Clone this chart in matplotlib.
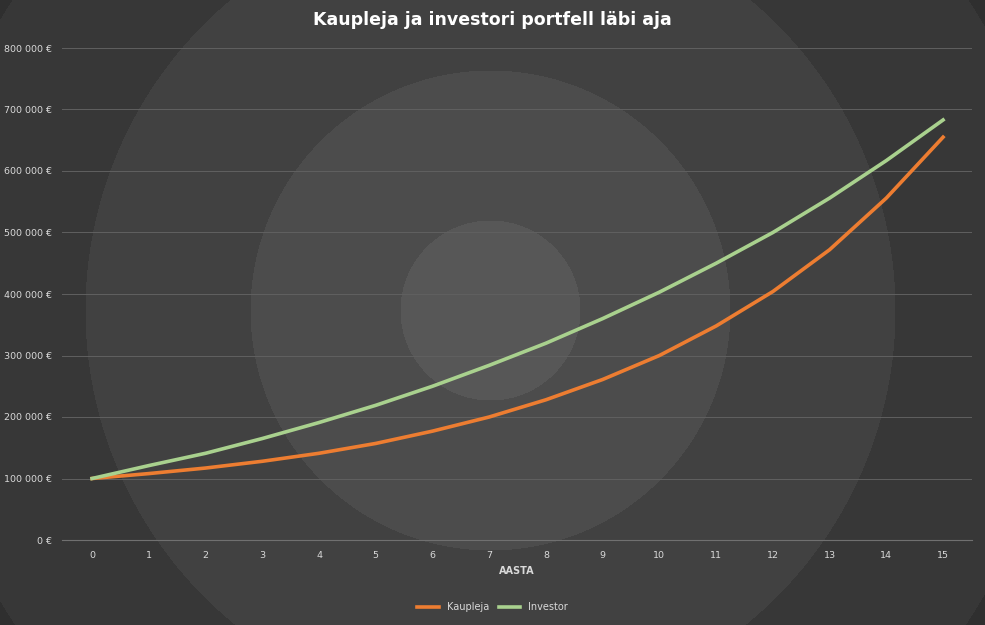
import numpy as np
import matplotlib
matplotlib.use("Agg")
import matplotlib.pyplot as plt
from matplotlib.ticker import FuncFormatter

years = list(range(16))
kaupleja = [100000, 108000, 117000, 128000, 141000, 157000, 177000, 200000, 228000, 261000, 300000, 348000, 404000, 472000, 556000, 655000]
investor = [100000, 121000, 141000, 165000, 191000, 219000, 250000, 284000, 320000, 360000, 403000, 450000, 500000, 556000, 617000, 683000]

W, H = 985, 625
fig = plt.figure(figsize=(W/100, H/100), dpi=100)

# radial stepped background
bg = fig.add_axes([0, 0, 1, 1])
yy, xx = np.mgrid[0:H, 0:W]
d = np.hypot(xx - 490, yy - 310)
edges = [90, 240, 405, 570, 740]
vals = [0x57, 0x4c, 0x41, 0x37, 0x2f, 0x29]
img = np.full(d.shape, vals[-1], dtype=float)
for r, v in reversed(list(zip(edges, vals))):
    img[d < r] = v
bg.imshow(img / 255.0, cmap="gray", vmin=0, vmax=1, aspect="auto")
bg.axis("off")

ax = fig.add_axes([62/W, 85/H, 910/W, 492/H])
ax.set_facecolor("none")
ax.plot(years, kaupleja, color="#ed7d31", lw=2.6, label="Kaupleja")
ax.plot(years, investor, color="#a9d18e", lw=2.6, label="Investor")
ax.set_xlim(-0.53, 15.51)
ax.set_ylim(0, 800000)
ax.set_yticks(range(0, 800001, 100000))
ax.set_xticks(years)
ax.yaxis.set_major_formatter(FuncFormatter(lambda v, p: "0 €" if v == 0 else f"{int(v)//1000} 000 €"))
ax.grid(axis="y", color="#606060", lw=0.7)
ax.set_axisbelow(True)
for s in ax.spines.values():
    s.set_visible(False)
ax.spines["bottom"].set_visible(True)
ax.spines["bottom"].set_color("#707070")
ax.tick_params(axis="y", colors="#d9d9d9", labelsize=6.8, length=0, pad=7)
ax.tick_params(axis="x", colors="#d9d9d9", labelsize=6.8, length=0, pad=8)
ax.set_xlabel("AASTA", color="#d9d9d9", fontsize=7, fontweight="bold", labelpad=4)
fig.text(0.5, 0.968, "Kaupleja ja investori portfell läbi aja", ha="center", va="center",
         color="white", fontsize=12.5, fontweight="bold")
leg = fig.legend(loc="center", bbox_to_anchor=(0.5, 0.028), ncol=2, frameon=False,
                 fontsize=7, handlelength=2.2, columnspacing=1.0, labelcolor="#d9d9d9")
fig.savefig("out.png", dpi=100)
